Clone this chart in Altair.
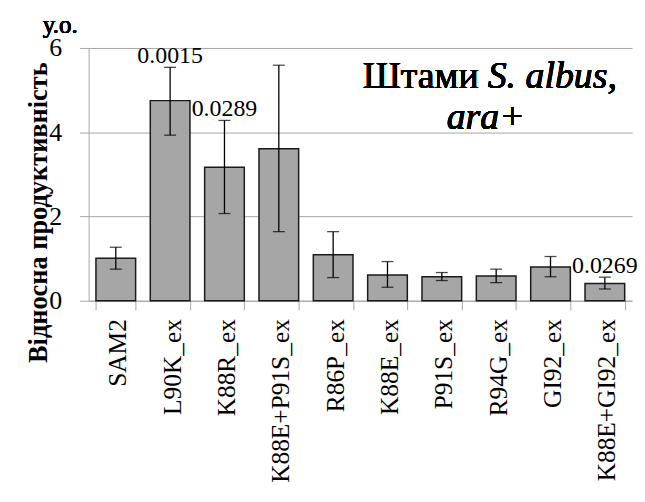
import altair as alt
import pandas as pd

strains = ["SAM2", "L90K_ex", "K88R_ex", "K88E+P91S_ex", "R86P_ex",
           "K88E_ex", "P91S_ex", "R94G_ex", "GI92_ex", "K88E+GI92_ex"]
values = [1.01, 4.75, 3.17, 3.61, 1.09, 0.61, 0.57, 0.59, 0.80, 0.41]
err_low = [0.75, 3.93, 2.07, 1.64, 0.55, 0.32, 0.48, 0.43, 0.57, 0.28]
err_high = [1.27, 5.54, 4.28, 5.59, 1.64, 0.93, 0.67, 0.75, 1.05, 0.56]
p_values = ["", "0.0015", "0.0289", "", "", "", "", "", "", "0.0269"]
y_ticks = [0, 2, 4, 6]

df = pd.DataFrame({"strain": strains, "value": values, "lo": err_low,
                   "hi": err_high, "p": p_values})

FONT = "Liberation Serif"

x_enc = alt.X("strain:N", sort=strains,
              scale=alt.Scale(paddingInner=0.27, paddingOuter=0.135),
              axis=alt.Axis(title=None, labelAngle=-90, labelAlign="right",
                            labelBaseline="middle", labelFontSize=25.5,
                            labelFont=FONT, labelColor="black",
                            labelPadding=9, tickBand="extent", tickSize=9,
                            tickColor="#a6a6a6", domainColor="#a6a6a6",
                            labelOffset=2))
y_scale = alt.Scale(domain=[0, 6])
y_axis = alt.Axis(title="Відносна продуктивність", values=y_ticks,
                  titleFont=FONT, titleFontSize=26.5, titleFontWeight="bold",
                  titleColor="black", titleAngle=-90, titleAlign="center",
                  titleBaseline="middle", titleX=-50, titleY=165,
                  labelFont=FONT, labelFontSize=26, labelColor="black",
                  labelPadding=18, tickSize=9, tickColor="#a6a6a6",
                  domainColor="#a6a6a6", gridColor="#a6a6a6", grid=True)

base = alt.Chart(df)

bars = base.mark_bar(color="#a6a6a6", stroke="#1a1a1a", strokeWidth=1.5).encode(
    x=x_enc, y=alt.Y("value:Q", scale=y_scale, axis=y_axis))
rules = base.mark_rule(color="black", strokeWidth=1.3).encode(
    x=alt.X("strain:N", sort=strains), y="lo:Q", y2="hi:Q")
cap_lo = base.mark_tick(color="black", size=12, thickness=1.3).encode(
    x=alt.X("strain:N", sort=strains), y="lo:Q")
cap_hi = base.mark_tick(color="black", size=12, thickness=1.3).encode(
    x=alt.X("strain:N", sort=strains), y="hi:Q")
ptext = base.transform_filter(alt.datum.p != "").mark_text(
    font=FONT, fontSize=24, color="black", baseline="middle", dy=-11).encode(
    x=alt.X("strain:N", sort=strains), y="hi:Q", text="p:N")

ann1 = base.mark_text(text="Штами", font=FONT, fontSize=38, color="black",
                      align="right", baseline="alphabetic").encode(
    x=alt.value(392), y=alt.value(40))
ann2 = base.mark_text(text="S. albus,", font=FONT, fontSize=38, fontStyle="italic",
                      color="black", align="left", baseline="alphabetic").encode(
    x=alt.value(401), y=alt.value(40))
ann3 = base.mark_text(text="ara+", font=FONT, fontSize=38, fontStyle="italic",
                      color="black", align="center", baseline="alphabetic").encode(
    x=alt.value(399), y=alt.value(81))
unit = base.mark_text(text="у.о.", font=FONT, fontSize=25, color="black",
                      align="left", baseline="alphabetic").encode(
    x=alt.value(-46), y=alt.value(-15))

chart = alt.layer(bars, rules, cap_lo, cap_hi, ptext, ann1, ann2, ann3, unit).properties(
    width=546, height=254,
    autosize=alt.AutoSizeParams(type="none"),
    padding={"left": 81, "top": 39, "right": 5, "bottom": 188},
).configure_view(stroke=None)

chart.save("out.html", embed_options={"renderer": "svg", "actions": False})
